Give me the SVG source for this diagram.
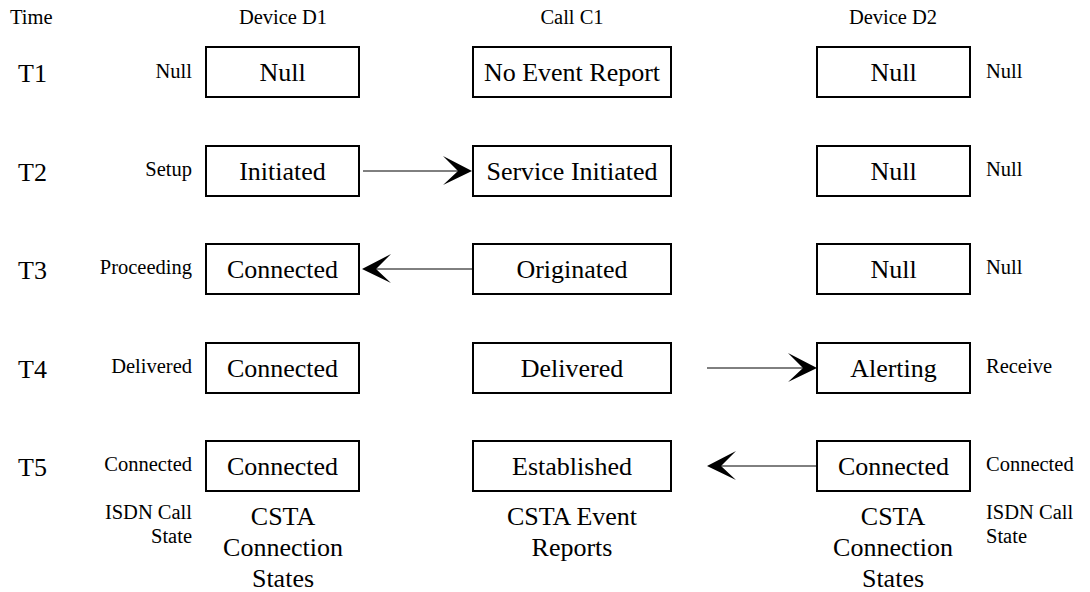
<svg xmlns="http://www.w3.org/2000/svg" width="1090" height="592" viewBox="0 0 1090 592">
<style>
text{font-family:"Liberation Serif","Times New Roman",serif;fill:#000}
.box rect{fill:#fff;stroke:#000;stroke-width:2}
.box text{font-size:26px;text-anchor:middle}
.s{font-size:20.5px}
.r{text-anchor:end}
.m{text-anchor:middle}
.t{font-size:26px}
.b{font-size:26px;text-anchor:middle}
.conn line{stroke:#000;stroke-width:1}
.conn path{fill:#000}
</style>
<g id="headers">
<text class="s" x="10" y="24">Time</text>
<text class="s m" x="283" y="24">Device D1</text>
<text class="s m" x="572" y="24">Call C1</text>
<text class="s m" x="893" y="24">Device D2</text>
<text class="t" x="18" y="82">T1</text>
<text class="t" x="18" y="181">T2</text>
<text class="t" x="18" y="279">T3</text>
<text class="t" x="18" y="378">T4</text>
<text class="t" x="18" y="476">T5</text>
</g>
<g id="isdn-left">
<text class="s r" x="192" y="78">Null</text>
<text class="s r" x="192" y="176">Setup</text>
<text class="s r" x="192" y="274">Proceeding</text>
<text class="s r" x="192" y="373">Delivered</text>
<text class="s r" x="192" y="471">Connected</text>
<text class="s r" x="192" y="519">ISDN Call</text>
<text class="s r" x="192" y="543">State</text>
</g>
<g id="isdn-right">
<text class="s" x="986" y="78">Null</text>
<text class="s" x="986" y="176">Null</text>
<text class="s" x="986" y="274">Null</text>
<text class="s" x="986" y="373">Receive</text>
<text class="s" x="986" y="471">Connected</text>
<text class="s" x="986" y="519">ISDN Call</text>
<text class="s" x="986" y="543">State</text>
</g>
<g id="d1-t1" class="box"><rect x="206" y="47" width="153" height="50"/><text x="282.5" y="81">Null</text></g>
<g id="d1-t2" class="box"><rect x="206" y="146" width="153" height="50"/><text x="282.5" y="180">Initiated</text></g>
<g id="d1-t3" class="box"><rect x="206" y="244" width="153" height="50"/><text x="282.5" y="278">Connected</text></g>
<g id="d1-t4" class="box"><rect x="206" y="343" width="153" height="50"/><text x="282.5" y="377">Connected</text></g>
<g id="d1-t5" class="box"><rect x="206" y="441" width="153" height="50"/><text x="282.5" y="475">Connected</text></g>
<g id="c1-t1" class="box"><rect x="473" y="47" width="198" height="50"/><text x="572" y="81">No Event Report</text></g>
<g id="c1-t2" class="box"><rect x="473" y="146" width="198" height="50"/><text x="572" y="180">Service Initiated</text></g>
<g id="c1-t3" class="box"><rect x="473" y="244" width="198" height="50"/><text x="572" y="278">Originated</text></g>
<g id="c1-t4" class="box"><rect x="473" y="343" width="198" height="50"/><text x="572" y="377">Delivered</text></g>
<g id="c1-t5" class="box"><rect x="473" y="441" width="198" height="50"/><text x="572" y="475">Established</text></g>
<g id="d2-t1" class="box"><rect x="817" y="47" width="153" height="50"/><text x="893.5" y="81">Null</text></g>
<g id="d2-t2" class="box"><rect x="817" y="146" width="153" height="50"/><text x="893.5" y="180">Null</text></g>
<g id="d2-t3" class="box"><rect x="817" y="244" width="153" height="50"/><text x="893.5" y="278">Null</text></g>
<g id="d2-t4" class="box"><rect x="817" y="343" width="153" height="50"/><text x="893.5" y="377">Alerting</text></g>
<g id="d2-t5" class="box"><rect x="817" y="441" width="153" height="50"/><text x="893.5" y="475">Connected</text></g>
<g id="footers">
<text class="b" x="283" y="525">CSTA</text>
<text class="b" x="283" y="556">Connection</text>
<text class="b" x="283" y="587">States</text>
<text class="b" x="572" y="525">CSTA Event</text>
<text class="b" x="572" y="556">Reports</text>
<text class="b" x="893" y="525">CSTA</text>
<text class="b" x="893" y="556">Connection</text>
<text class="b" x="893" y="587">States</text>
</g>
<g id="connectors" class="conn">
<line x1="363" y1="171" x2="460" y2="171"/>
<path d="M472,171 L443,156 L458,171 L443,185 Z"/>
<line x1="472" y1="269" x2="375" y2="269"/>
<path d="M362,269 L391,254 L376,269 L391,283 Z"/>
<line x1="707" y1="368" x2="805" y2="368"/>
<path d="M817,368 L788,353 L803,368 L788,382 Z"/>
<line x1="817" y1="466" x2="720" y2="466"/>
<path d="M707,466 L736,451 L721,466 L736,480 Z"/>
</g>
</svg>
